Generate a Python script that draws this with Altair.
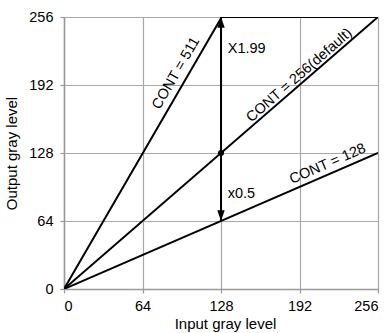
import altair as alt
import pandas as pd

# data
tick_values = [0, 64, 128, 192, 256]

series = ["CONT = 511", "CONT = 511", "CONT = 511",
          "CONT = 256(default)", "CONT = 256(default)",
          "CONT = 128", "CONT = 128"]
line_x = [0, 128.6, 256, 0, 256, 0, 256]
line_y = [0, 256, 256, 0, 256, 0, 128]
line_order = [0, 1, 2, 0, 1, 0, 1]

arrow_x = [128, 128]
arrow_from = [128, 128]
arrow_to = [256, 64]

dot_x = [128]
dot_y = [128]

label_text = ["CONT = 511", "CONT = 256(default)", "CONT = 128"]
label_x = [91.5, 192, 215]
label_y = [203, 201, 117.5]
label_angle = [300, 319, 336.6]

note_text = ["X1.99", "x0.5"]
note_x = [133.5, 133.5]
note_y = [225.6, 89.8]

FONT = "Liberation Sans"

lines_df = pd.DataFrame({"series": series, "x": line_x, "y": line_y, "o": line_order})
arrows_df = pd.DataFrame({"x": arrow_x, "y": arrow_from, "y2": arrow_to})
heads_df = pd.DataFrame({"x": arrow_x, "y": arrow_to,
                         "dir": ["up", "down"]})
dot_df = pd.DataFrame({"x": dot_x, "y": dot_y})
labels_df = pd.DataFrame({"t": label_text, "x": label_x, "y": label_y, "a": label_angle})
notes_df = pd.DataFrame({"t": note_text, "x": note_x, "y": note_y})

xs = alt.Scale(domain=[0, 256], nice=False, zero=False)
ys = alt.Scale(domain=[0, 256], nice=False, zero=False)

xaxis = alt.Axis(values=tick_values, title="Input gray level", grid=True,
                 titleX=161, titleY=27, labelPadding=6)
yaxis = alt.Axis(values=tick_values, title="Output gray level", grid=True,
                 titleX=-45, titleY=136, labelPadding=7)

lines = alt.Chart(lines_df).mark_line(color="black", strokeWidth=2, clip=True).encode(
    x=alt.X("x:Q", scale=xs, axis=xaxis),
    y=alt.Y("y:Q", scale=ys, axis=yaxis),
    detail="series:N",
    order="o:Q",
)

arrows = alt.Chart(arrows_df).mark_rule(color="black", strokeWidth=2).encode(
    x=alt.X("x:Q", scale=xs),
    y=alt.Y("y:Q", scale=ys),
    y2="y2:Q",
)

up_head = alt.Chart(heads_df[heads_df["dir"] == "up"]).mark_point(
    shape="M0,0L-0.38,1.1L0.38,1.1Z", size=380, filled=True, color="black", opacity=1
).encode(x=alt.X("x:Q", scale=xs), y=alt.Y("y:Q", scale=ys))

down_head = alt.Chart(heads_df[heads_df["dir"] == "down"]).mark_point(
    shape="M0,0L-0.38,-1.1L0.38,-1.1Z", size=380, filled=True, color="black", opacity=1
).encode(x=alt.X("x:Q", scale=xs), y=alt.Y("y:Q", scale=ys))

dot = alt.Chart(dot_df).mark_circle(color="black", size=36, opacity=1).encode(
    x=alt.X("x:Q", scale=xs), y=alt.Y("y:Q", scale=ys))

labels = alt.Chart(labels_df).mark_text(
    font=FONT, fontSize=14.5, color="black", align="center", baseline="middle"
).encode(
    x=alt.X("x:Q", scale=xs), y=alt.Y("y:Q", scale=ys), text="t:N",
    angle=alt.Angle("a:Q", scale=None),
)

notes = alt.Chart(notes_df).mark_text(
    font=FONT, fontSize=14.5, color="black", align="left", baseline="middle"
).encode(x=alt.X("x:Q", scale=xs), y=alt.Y("y:Q", scale=ys), text="t:N")

chart = alt.layer(lines, arrows, up_head, down_head, dot, labels, notes).properties(
    width=314, height=272,
    autosize=alt.AutoSizeParams(type="none"),
    padding={"left": 64, "top": 17, "right": 14, "bottom": 44},
    background="white",
).configure_view(stroke=None).configure_axis(
    gridColor="#a8a8a8", gridWidth=1.2,
    domainColor="#999999", domainWidth=1.5,
    tickColor="#999999", tickWidth=1.2, tickSize=4,
    labelFont=FONT, labelFontSize=14.5, labelColor="black",
    titleFont=FONT, titleFontSize=15, titleFontWeight="normal", titleColor="black",
)

chart.save("out.html", embed_options={"renderer": "svg", "actions": False})
